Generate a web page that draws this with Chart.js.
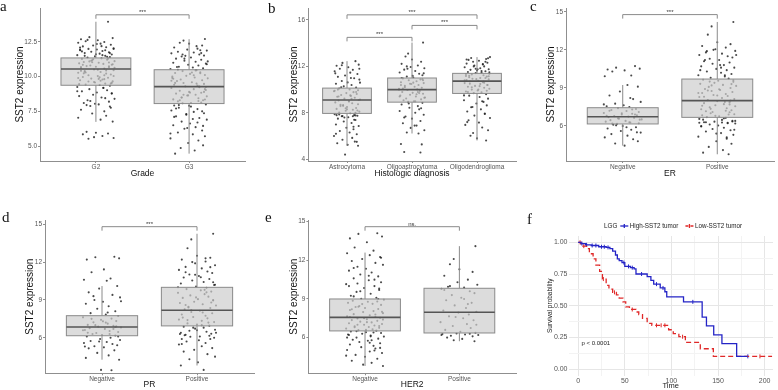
<!DOCTYPE html>
<html>
<head>
<meta charset="utf-8">
<title>SST2 expression</title>
<script src="https://cdn.jsdelivr.net/npm/chart.js@4.4.1/dist/chart.umd.min.js"></script>
<style>
  body { margin: 0; background: #fff; }
  #wrap { position: relative; width: 778px; height: 390px; overflow: hidden; background: #fff; }
  #wrap canvas { position: absolute; }
  .tag { position: absolute; font-family: 'Liberation Serif', 'Times New Roman', serif; font-size: 15px; line-height: 1; color: #111; }
</style>
</head>
<body>
<div id="wrap">
  <canvas id="panelA" width="255" height="195" style="left:0;top:0"></canvas>
  <canvas id="panelB" width="265" height="195" style="left:255px;top:0"></canvas>
  <canvas id="panelC" width="258" height="195" style="left:520px;top:0"></canvas>
  <canvas id="panelD" width="258" height="195" style="left:0;top:195px"></canvas>
  <canvas id="panelE" width="265" height="195" style="left:255px;top:195px"></canvas>
  <canvas id="panelF" width="258" height="195" style="left:520px;top:195px"></canvas>
  <div class="tag" style="left:0;top:-1px">a</div>
  <div class="tag" style="left:268px;top:1px">b</div>
  <div class="tag" style="left:530px;top:-1px">c</div>
  <div class="tag" style="left:2px;top:210px">d</div>
  <div class="tag" style="left:265px;top:210px">e</div>
  <div class="tag" style="left:527px;top:212px">f</div>
</div>
<script>
// ---------------------------------------------
// SST2 expression panels (a-e boxplots, f KM)
// ---------------------------------------------
Chart.defaults.font.family = "'Liberation Sans', Arial, sans-serif";

const AXIS_GREY = '#8f8f8f';

// jitter offsets (category units) shared by all groups
const JITTER = [0.13, -0.07, 0.18, -0.16, 0.02, -0.11, 0.09, -0.19, 0.05, 0.16, -0.03, -0.14, 0.11, 0.19, -0.08, 0.01, -0.17, 0.07, -0.05, 0.14,
  -0.12, 0.04, 0.17, -0.2, 0.1, -0.01, 0.15, -0.09, 0.06, -0.15, 0.12, -0.04, 0.2, -0.13, 0.03, -0.18, 0.08, 0.17, -0.06, -0.1,
  0.0, 0.14, -0.16, 0.09, -0.02, 0.19, -0.12, 0.05, -0.19, 0.11, 0.16, -0.08, 0.02, -0.14, 0.13, -0.05, 0.07, -0.17, 0.18, -0.01,
  0.1, -0.11, 0.04, 0.15, -0.2, 0.08, -0.07, 0.12, -0.15, 0.01, 0.17, -0.03, -0.18, 0.06, 0.2, -0.09, 0.14, -0.13, 0.03, -0.06,
  0.16, -0.16, 0.09, -0.04, 0.11, -0.19, 0.05, 0.18, -0.1, 0.0, 0.13, -0.14, 0.07, -0.02, 0.19, -0.08, 0.1, -0.17, 0.15, -0.12];

// ---- a: Grade ----
const GRADE_CATS = ['G2', 'G3'];
const GRADE_G2 = [13.96, 12.85, 12.78, 12.7, 12.62, 12.55, 12.5, 12.44, 12.38, 12.3, 12.25, 12.18, 12.12, 12.05, 12.0, 11.96, 11.9, 11.85, 11.8, 11.76, 11.7, 11.66, 11.6, 11.55, 11.5, 11.46, 11.42, 11.38,
  11.32, 11.28, 11.22, 11.18, 11.12, 11.06, 11.0, 10.96, 10.92, 10.86, 10.8, 10.76, 10.72, 10.68, 10.62, 10.58,
  10.52, 10.46, 10.4, 10.34, 10.28, 10.22, 10.16, 10.1, 10.04, 9.98, 9.92, 9.86, 9.8, 9.74, 9.66, 9.58, 9.5, 9.44, 9.4,
  9.34, 9.26, 9.18, 9.1, 9.02, 8.94, 8.86, 8.78, 8.7, 8.6, 8.5, 8.4, 8.3, 8.2, 8.1, 8.0, 7.88, 7.76, 7.62, 7.5, 7.34, 7.18, 7.04, 6.9, 6.76,
  6.02, 5.96, 5.9, 5.84, 5.72, 5.64, 5.58, 5.52,
  11.9, 12.1, 11.7, 11.5, 11.3, 11.1, 10.9, 10.7, 10.5, 10.3, 10.1, 9.9, 9.7, 9.5, 11.25, 10.85, 10.45, 10.05, 9.65, 12.35, 11.95, 11.55, 11.15, 10.75, 10.35,
  9.95, 9.55, 8.95, 8.45, 8.05, 7.85, 12.65, 12.2, 11.82, 11.44, 11.04, 10.64, 10.24, 9.84, 9.46, 9.2, 8.8, 8.25, 7.95, 11.62, 11.02, 10.42, 9.82, 9.62, 12.0];
const GRADE_G3 = [12.72, 12.6, 12.45, 12.38, 12.25, 12.1, 12.02, 11.95, 11.88, 11.8, 11.74, 11.68, 11.6, 11.52, 11.45, 11.38, 11.3, 11.22, 11.15, 11.08, 11.0, 10.94, 10.86, 10.8, 10.72, 10.66, 10.6, 10.55,
  10.46, 10.4, 10.32, 10.26, 10.2, 10.12, 10.06, 10.0, 9.94, 9.88, 9.8, 9.74, 9.68, 9.6, 9.54, 9.48, 9.42, 9.36, 9.3,
  9.24, 9.18, 9.1, 9.04, 8.98, 8.9, 8.84, 8.78, 8.7, 8.64, 8.58, 8.5, 8.44, 8.36, 8.3, 8.22, 8.14, 8.08,
  8.0, 7.92, 7.84, 7.76, 7.66, 7.56, 7.46, 7.36, 7.26, 7.14, 7.02, 6.9, 6.76, 6.62, 6.5, 6.36, 6.24, 6.12, 5.98, 5.84, 5.7, 5.55, 5.4, 5.22, 5.05, 4.86, 4.68, 4.45,
  11.9, 11.5, 11.1, 10.7, 10.3, 9.9, 9.5, 9.1, 8.7, 8.3, 7.9, 7.5, 7.1, 6.7, 6.3, 10.9, 10.5, 10.1, 9.7, 9.3, 8.9, 8.5, 8.1, 7.7, 11.7, 11.3, 10.45, 9.85,
  9.25, 8.65, 8.25, 7.95, 6.95, 6.45, 5.9, 12.2, 11.6, 10.25, 9.55, 8.85, 8.35, 7.3];
// [lower whisker, Q1, median, Q3, upper whisker]
const GRADE_STATS = [[6.74, 9.38, 10.55, 11.35, 13.96], [4.45, 8.06, 9.28, 10.5, 12.7]];
const GRADE_TICKS = [5, 7.5, 10, 12.5];
const GRADE_BRACKETS = [[1, 2, 14.46, '***']];

// ---- b: Histologic diagnosis ----
const HIST_CATS = ['Astrocytoma', 'Oligoastrocytoma', 'Oligodendroglioma'];
const HIST_ASTRO = [12.45, 12.3, 12.15, 12.05, 11.92, 11.8, 11.7, 11.58, 11.46, 11.35, 11.22, 11.1, 10.98, 10.86, 10.74, 10.62, 10.5, 10.4, 10.28, 10.18,
  10.1, 10.02, 9.94, 9.86, 9.78, 9.7, 9.62, 9.54, 9.46, 9.38, 9.3, 9.22, 9.15,
  9.06, 8.98, 8.9, 8.82, 8.74, 8.66, 8.58, 8.5, 8.42, 8.34, 8.26, 8.18, 8.1, 8.02, 7.96,
  7.88, 7.8, 7.75, 7.7, 7.62, 7.5, 7.38, 7.25, 7.12, 7.0, 6.86, 6.72, 6.58, 6.44, 6.3, 6.16, 6.0, 5.84, 5.68, 5.52, 5.38, 5.24, 5.16, 4.4,
  11.4, 11.0, 10.6, 10.2, 9.8, 9.4, 9.0, 8.6, 8.2, 7.8, 7.7, 7.6, 7.4, 9.9, 9.5, 9.1, 8.7, 8.3, 8.0, 10.0, 9.2, 8.4, 11.8, 12.1, 6.8, 6.2, 5.5, 7.85, 7.78, 7.72];
const HIST_OLIGOASTRO = [14.05, 13.1, 12.85, 12.6, 12.4, 12.22, 12.08, 11.95, 11.84, 11.72, 11.6, 11.48, 11.36, 11.24, 11.12, 11.04,
  10.96, 10.88, 10.8, 10.72, 10.64, 10.56, 10.48, 10.4, 10.32, 10.24, 10.16, 10.08, 10.02,
  9.96, 9.88, 9.8, 9.72, 9.64, 9.56, 9.48, 9.4, 9.32, 9.24, 9.16, 9.08, 9.0, 8.94,
  8.86, 8.72, 8.58, 8.44, 8.3, 8.16, 8.0, 7.84, 7.68, 7.5, 7.3, 7.1, 6.9, 6.7, 6.5, 6.3, 6.22, 5.32, 5.28, 4.62, 4.58,
  11.8, 11.4, 11.0, 10.6, 10.2, 9.8, 9.4, 9.0, 10.9, 10.5, 10.1, 9.7, 9.3, 12.0, 11.2, 10.4, 9.6, 8.8, 8.4, 7.6, 6.9, 10.8, 10.0];
const HIST_OLIGODENDRO = [12.8, 12.72, 12.64, 12.56, 12.48, 12.4, 12.32, 12.24, 12.16, 12.08, 12.0, 11.92, 11.84, 11.76, 11.7, 11.64, 11.58, 11.52, 11.46, 11.42,
  11.36, 11.3, 11.24, 11.18, 11.12, 11.06, 11.0, 10.94, 10.88, 10.82, 10.76,
  10.7, 10.64, 10.56, 10.48, 10.4, 10.32, 10.24, 10.16, 10.08, 10.0, 9.92, 9.84, 9.76, 9.7,
  9.6, 9.48, 9.36, 9.22, 9.08, 8.94, 8.8, 8.64, 8.48, 8.3, 8.12, 7.94, 7.76, 7.56, 7.36, 7.16, 6.96, 6.74, 6.5, 6.26, 6.02, 5.8, 5.62,
  12.6, 12.2, 11.8, 11.5, 11.2, 11.0, 10.8, 10.6, 10.4, 10.2, 10.0, 9.8, 12.4, 12.0, 11.6, 11.35, 11.15, 10.9, 10.7, 10.5, 10.3, 9.9, 9.5, 9.0, 8.5, 7.9, 7.2, 11.75, 12.7];
const HIST_STATS = [[5.16, 7.95, 9.1, 10.13, 12.45], [6.22, 8.92, 10.0, 11.0, 14.05], [5.62, 9.67, 10.73, 11.4, 12.8]];
const HIST_TICKS = [4, 8, 12, 16];
const HIST_BRACKETS = [[1, 2, 14.5, '***'], [2, 3, 15.53, '***'], [1, 3, 16.44, '***']];

// ---- c: ER ----
const STATUS_CATS = ['Negative', 'Positive'];
const ER_NEG = [10.72, 10.6, 10.52, 10.45, 10.38, 10.3, 9.98, 9.92,
  9.23, 9.1, 8.72, 8.4, 8.12, 7.9, 7.76, 7.64, 7.56, 7.5,
  7.4, 7.34, 7.26, 7.18, 7.1, 7.02, 6.96, 6.9, 6.84, 6.78, 6.74,
  6.7, 6.64, 6.58, 6.52, 6.46, 6.4, 6.34, 6.28, 6.22, 6.17,
  6.1, 6.0, 5.9, 5.8, 5.7, 5.6, 5.48, 5.36, 5.24, 5.1, 4.96, 4.8, 4.62, 4.45,
  7.2, 6.9, 6.6, 6.3, 6.8, 6.5, 7.0, 7.3, 6.2, 5.9, 5.5, 7.7, 8.2, 6.05];
const ER_POS = [14.2, 13.85, 13.2, 12.6, 12.45, 12.3, 12.18, 12.05, 11.92, 11.8, 11.7, 11.6, 11.5, 11.4, 11.3, 11.2, 11.1, 11.0, 10.9, 10.8, 10.7, 10.6, 10.5, 10.4, 10.3, 10.2, 10.1, 10.0, 9.9, 9.8, 9.74,
  9.64, 9.56, 9.48, 9.4, 9.32, 9.24, 9.16, 9.08, 9.0, 8.92, 8.84, 8.76, 8.68, 8.6, 8.52, 8.44, 8.36, 8.28, 8.2, 8.12, 8.04,
  7.96, 7.88, 7.8, 7.72, 7.64, 7.56, 7.48, 7.4, 7.32, 7.24, 7.16, 7.08, 7.0, 6.92, 6.84, 6.76, 6.7,
  6.64, 6.56, 6.48, 6.4, 6.34, 6.3, 6.26, 6.2, 6.12, 6.04, 5.96, 5.86, 5.76, 5.66, 5.56, 5.44, 5.3, 5.16, 5.0, 4.8, 4.6, 4.35, 4.1, 3.9, 3.77,
  12.0, 11.6, 11.2, 10.8, 10.4, 10.0, 9.6, 9.2, 8.8, 8.4, 8.0, 7.6, 7.2, 6.8, 6.4, 6.3, 6.28, 6.25, 6.22, 6.35, 9.5, 8.9, 8.3, 7.7, 7.1, 6.6, 6.0, 5.7, 5.4, 5.1,
  11.9, 10.6, 9.3, 8.6, 7.9, 7.35, 6.9, 6.5];
const ER_STATS = [[4.45, 6.16, 6.73, 7.44, 9.23], [3.77, 6.68, 8.0, 9.7, 14.2]];
const EXPR_TICKS = [6, 9, 12, 15];
const ER_BRACKETS = [[1, 2, 14.78, '***']];

// ---- d: PR ----
const PR_NEG = [12.42, 12.38, 12.3, 12.2, 11.42, 11.2, 10.7, 10.6, 10.52,
  10.1, 9.9, 9.6, 9.4, 9.2, 9.0, 8.85, 8.7, 8.5, 8.3, 8.1, 7.95, 7.85,
  7.72, 7.62, 7.52, 7.42, 7.32, 7.22, 7.12, 7.02, 6.94, 6.88,
  6.82, 6.76, 6.7, 6.62, 6.54, 6.46, 6.38, 6.3, 6.22, 6.18,
  6.1, 6.0, 5.9, 5.82, 5.74, 5.66, 5.58, 5.5, 5.4, 5.32, 5.24, 5.16, 5.0, 4.8, 4.6, 4.4, 4.26, 3.45, 3.42,
  7.5, 7.2, 6.9, 6.6, 6.3, 7.0, 6.7, 6.4, 7.3, 6.1, 5.7, 5.3, 8.0, 8.9, 9.3, 6.85];
const PR_POS = [14.25, 13.8, 13.1, 12.5, 12.35, 12.2, 12.05, 11.9, 11.75, 11.62, 11.5, 11.38, 11.26, 11.14, 11.02, 10.9, 10.78, 10.66, 10.54, 10.42, 10.3, 10.18, 10.06,
  9.96, 9.86, 9.76, 9.66, 9.56, 9.46, 9.36, 9.26, 9.16, 9.06, 8.96, 8.86, 8.76, 8.66, 8.56, 8.46, 8.36, 8.26,
  8.14, 8.04, 7.94, 7.84, 7.74, 7.64, 7.54, 7.44, 7.34, 7.24, 7.14, 7.04, 6.96,
  6.88, 6.8, 6.72, 6.64, 6.56, 6.48, 6.4, 6.32, 6.24, 6.16, 6.08, 6.0, 5.9, 5.8, 5.7, 5.58, 5.46, 5.32, 5.18, 5.04, 4.9, 4.7, 4.5, 4.3, 4.05, 3.8, 3.45,
  12.0, 11.6, 11.2, 10.8, 10.4, 10.0, 9.6, 9.2, 8.8, 8.4, 8.0, 7.6, 7.2, 6.8, 6.4, 6.2, 6.1, 6.3, 9.8, 9.0, 8.2, 7.4, 6.6, 5.9, 5.5, 12.3, 11.0, 10.2, 8.6, 7.0];
const PR_STATS = [[4.26, 6.16, 6.85, 7.75, 10.1], [3.8, 6.94, 8.18, 10.0, 14.25]];
const PR_BRACKETS = [[1, 2, 14.81, '***']];

// ---- e: HER2 ----
const HER2_NEG = [14.1, 14.05, 13.85, 13.7, 13.4, 13.0, 12.75,
  12.55, 12.4, 12.25, 12.1, 11.95, 11.8, 11.65, 11.5, 11.35, 11.2, 11.05, 10.9, 10.75, 10.6, 10.45, 10.3, 10.15, 10.0, 9.85, 9.7, 9.55, 9.4, 9.25, 9.1, 9.02,
  8.94, 8.86, 8.78, 8.7, 8.62, 8.54, 8.46, 8.38, 8.3, 8.22, 8.14, 8.06, 7.98, 7.9, 7.82, 7.74, 7.66, 7.6,
  7.54, 7.48, 7.42, 7.36, 7.3, 7.24, 7.18, 7.12, 7.06, 7.0, 6.94, 6.88, 6.82, 6.76, 6.7, 6.64, 6.58, 6.54,
  6.48, 6.42, 6.36, 6.3, 6.24, 6.16, 6.08, 6.0, 5.92, 5.84, 5.76, 5.66, 5.56, 5.46, 5.36, 5.26, 5.16, 5.04, 4.92, 4.8, 4.66, 4.52, 4.36, 4.2, 4.04, 3.9, 3.8,
  10.2, 10.5, 10.0, 9.8, 9.2, 8.8, 8.4, 8.0, 7.6, 7.2, 6.8, 6.4, 6.0, 5.6, 5.2, 8.6, 8.2, 7.8, 7.4, 7.0, 6.6, 6.2, 5.8, 9.6, 9.0, 11.4, 10.8, 12.2, 4.6, 5.0,
  7.5, 6.9, 6.5, 6.1];
const HER2_POS = [13.1, 12.1, 11.7, 11.3, 11.1, 10.8, 10.5, 10.3, 10.1, 9.95, 9.88,
  9.78, 9.6, 9.45, 9.3, 9.1, 8.9, 8.7, 8.5, 8.3, 8.1, 8.0,
  7.94, 7.8, 7.65, 7.5, 7.35, 7.2, 7.05, 6.9, 6.75, 6.6, 6.45, 6.38,
  6.32, 6.28, 6.24, 6.2, 6.15, 6.1, 6.0, 5.9, 5.8, 5.72,
  9.7, 8.6, 7.6, 6.3, 6.2, 9.0, 7.0, 10.0];
const HER2_STATS = [[3.8, 6.52, 7.57, 9.0, 12.6], [5.72, 6.36, 7.97, 9.83, 13.1]];
const HER2_BRACKETS = [[1, 2, 14.61, 'ns.']];

// ---- f: survival (LGG) ----
const HIGH_TIME = [0, 3, 8, 14, 22, 30, 34, 37, 40, 42, 44, 47, 50, 56, 60, 62, 74, 78, 81, 88, 93, 95, 113, 133, 137.6, 145.4, 154.2, 170, 181.7];
const HIGH_SURV = [1, 0.99, 0.98, 0.975, 0.965, 0.96, 0.95, 0.93, 0.9, 0.87, 0.855, 0.84, 0.81, 0.8, 0.79, 0.75, 0.73, 0.7, 0.67, 0.64, 0.61, 0.57, 0.53, 0.41, 0.34, 0.27, 0.2, 0.1, 0.1];
const LOW_TIME = [0, 3, 5, 9, 12, 16, 19, 23, 26, 30, 33, 37, 41, 44, 48, 51, 55, 62, 65, 69, 74, 79, 97, 102, 108, 115, 131, 145, 208];
const LOW_SURV = [1, 0.98, 0.97, 0.95, 0.91, 0.87, 0.82, 0.77, 0.71, 0.66, 0.63, 0.605, 0.585, 0.56, 0.53, 0.49, 0.47, 0.45, 0.43, 0.4, 0.36, 0.345, 0.31, 0.28, 0.255, 0.21, 0.16, 0.1, 0.1];
const HIGH_CENSOR = [4, 9, 15, 19, 25, 28, 32, 49, 54, 58, 68, 84, 91, 123, 182];
const LOW_CENSOR = [2, 6, 27, 39, 58, 84, 89, 93, 112, 195];
const TIME_TICKS = [0, 50, 100, 150, 200];
const TIME_MINOR = [25, 75, 125, 175];
const SURV_TICKS = [0, 0.25, 0.5, 0.75, 1];
const SURV_MINOR = [0.125, 0.375, 0.625, 0.875];

const HIGH_BLUE = '#2424c6';
const LOW_RED = '#e02828';

function makeBoxPlugin(p) {
  return {
    id: 'boxplot',
    afterDatasetsDraw(chart) {
      const { ctx, scales: { x, y } } = chart;
      ctx.save();
      p.stats.forEach((s, i) => {
        const cx = x.getPixelForValue(i + 1);
        const half = x.getPixelForValue(i + 1 + 0.375) - cx;
        const [lo, q1, med, q3, hi] = s.map(v => y.getPixelForValue(v));
        ctx.strokeStyle = '#8a8a8a';
        ctx.lineWidth = 1;
        ctx.beginPath();
        ctx.moveTo(cx, lo); ctx.lineTo(cx, q1);
        ctx.moveTo(cx, q3); ctx.lineTo(cx, hi);
        ctx.stroke();
        ctx.fillStyle = 'rgba(205,205,205,0.7)';
        ctx.fillRect(cx - half, q3, half * 2, q1 - q3);
        ctx.strokeRect(cx - half, q3, half * 2, q1 - q3);
        ctx.strokeStyle = '#555';
        ctx.lineWidth = 1.6;
        ctx.beginPath();
        ctx.moveTo(cx - half, med); ctx.lineTo(cx + half, med);
        ctx.stroke();
      });
      // significance brackets
      ctx.strokeStyle = '#8a8a8a';
      ctx.lineWidth = 1;
      ctx.fillStyle = '#333';
      ctx.font = "6px 'Liberation Sans', Arial, sans-serif";
      ctx.textAlign = 'center';
      ctx.textBaseline = 'alphabetic';
      p.brackets.forEach(b => {
        const x1 = x.getPixelForValue(b[0]);
        const x2 = x.getPixelForValue(b[1]);
        const by = y.getPixelForValue(b[2]);
        ctx.beginPath();
        ctx.moveTo(x1, by + 4); ctx.lineTo(x1, by); ctx.lineTo(x2, by); ctx.lineTo(x2, by + 4);
        ctx.stroke();
        ctx.fillText(b[3], (x1 + x2) / 2, by - 1);
      });
      ctx.restore();
    }
  };
}

function boxPanel(id, p) {
  const canvas = document.getElementById(id);
  const W = canvas.width, H = canvas.height;
  const n = p.cats.length;
  return new Chart(canvas, {
    type: 'scatter',
    data: {
      datasets: p.groups.map((vals, g) => ({
        data: vals.map((v, i) => ({ x: g + 1 + JITTER[(i + g * 37) % JITTER.length], y: v })),
        pointRadius: 1.05,
        pointBackgroundColor: 'rgba(28,28,28,0.8)',
        pointBorderWidth: 0,
        borderColor: 'transparent'
      }))
    },
    options: {
      responsive: false,
      animation: false,
      devicePixelRatio: 1,
      events: [],
      layout: { padding: { left: 0, top: p.area.top, right: W - p.area.right, bottom: 0 } },
      plugins: { legend: { display: false }, tooltip: { enabled: false } },
      scales: {
        x: {
          type: 'linear', min: 0.4, max: n + 0.6,
          afterBuildTicks: s => { s.ticks = p.cats.map((c, i) => ({ value: i + 1 })); },
          afterFit: s => { s.height = H - p.area.bottom; },
          ticks: { callback: v => p.cats[v - 1], color: '#555', font: { size: 6.5 }, padding: 0, maxRotation: 0, autoSkip: false },
          grid: { drawOnChartArea: false, tickLength: 2, color: AXIS_GREY },
          border: { color: AXIS_GREY },
          title: { display: true, text: p.xTitle, color: '#111', font: { size: 8.5 }, padding: { top: 0, bottom: p.xTitlePad } }
        },
        y: {
          min: p.yMin, max: p.yMax,
          afterBuildTicks: s => { s.ticks = p.yTicks.map(v => ({ value: v })); },
          afterFit: s => { s.width = p.area.left; },
          ticks: { callback: v => p.tickFmt(v), color: '#555', font: { size: 6.5 }, padding: 1 },
          grid: { drawOnChartArea: false, tickLength: 2, color: AXIS_GREY },
          border: { color: AXIS_GREY },
          title: { display: true, text: 'SST2 expression', color: '#111', font: { size: 10 }, padding: { top: p.yTitlePad, bottom: 0 } }
        }
      }
    },
    plugins: [makeBoxPlugin(p)]
  });
}

boxPanel('panelA', {
  cats: GRADE_CATS, groups: [GRADE_G2, GRADE_G3], stats: GRADE_STATS, brackets: GRADE_BRACKETS,
  yMin: 3.92, yMax: 14.95, yTicks: GRADE_TICKS, tickFmt: v => v.toFixed(1),
  xTitle: 'Grade', area: { left: 40, right: 245, top: 8, bottom: 161 }, yTitlePad: 14, xTitlePad: 15.9
});
boxPanel('panelB', {
  cats: HIST_CATS, groups: [HIST_ASTRO, HIST_OLIGOASTRO, HIST_OLIGODENDRO], stats: HIST_STATS, brackets: HIST_BRACKETS,
  yMin: 3.85, yMax: 17.03, yTicks: HIST_TICKS, tickFmt: v => String(v),
  xTitle: 'Histologic diagnosis', area: { left: 53, right: 264, top: 8, bottom: 161 }, yTitlePad: 33.5, xTitlePad: 15.9
});
boxPanel('panelC', {
  cats: STATUS_CATS, groups: [ER_NEG, ER_POS], stats: ER_STATS, brackets: ER_BRACKETS,
  yMin: 3.24, yMax: 15.3, yTicks: EXPR_TICKS, tickFmt: v => String(v),
  xTitle: 'ER', area: { left: 46, right: 257, top: 8, bottom: 161 }, yTitlePad: 25.7, xTitlePad: 15.9
});
boxPanel('panelD', {
  cats: STATUS_CATS, groups: [PR_NEG, PR_POS], stats: PR_STATS, brackets: PR_BRACKETS,
  yMin: 3.18, yMax: 15.34, yTicks: EXPR_TICKS, tickFmt: v => String(v),
  xTitle: 'PR', area: { left: 45, right: 256, top: 25, bottom: 178.3 }, yTitlePad: 24.3, xTitlePad: 0
});
boxPanel('panelE', {
  cats: STATUS_CATS, groups: [HER2_NEG, HER2_POS], stats: HER2_STATS, brackets: HER2_BRACKETS,
  yMin: 3.23, yMax: 15.13, yTicks: EXPR_TICKS, tickFmt: v => String(v),
  xTitle: 'HER2', area: { left: 53.4, right: 264.6, top: 25, bottom: 178.3 }, yTitlePad: 33.3, xTitlePad: 0
});

// ---- f: Kaplan-Meier ----
function survAt(times, surv, t) {
  let s = surv[0];
  times.forEach((tt, i) => { if (tt <= t) s = surv[i]; });
  return s;
}

const survLegend = {
  id: 'survLegend',
  afterDraw(chart) {
    const { ctx, scales: { x, y } } = chart;
    ctx.save();
    ctx.font = "6.3px 'Liberation Sans', Arial, sans-serif";
    ctx.textBaseline = 'middle';
    ctx.fillStyle = '#222';
    const ly = 31;
    let lx = 84;
    ctx.fillText('LGG', lx, ly);
    lx += ctx.measureText('LGG').width + 3;
    [[HIGH_BLUE, [], chart.data.datasets[0].label], [LOW_RED, [3, 2], chart.data.datasets[1].label]].forEach(item => {
      ctx.strokeStyle = item[0];
      ctx.lineWidth = 1.3;
      ctx.setLineDash(item[1]);
      ctx.beginPath();
      ctx.moveTo(lx, ly); ctx.lineTo(lx + 8, ly);
      ctx.stroke();
      ctx.setLineDash([]);
      ctx.beginPath();
      ctx.moveTo(lx + 4, ly - 2); ctx.lineTo(lx + 4, ly + 2);
      ctx.stroke();
      lx += 9.5;
      ctx.fillStyle = '#222';
      ctx.fillText(item[2], lx, ly);
      lx += ctx.measureText(item[2]).width + 7;
    });
    ctx.font = "6px 'Liberation Sans', Arial, sans-serif";
    ctx.fillStyle = '#222';
    ctx.textBaseline = 'middle';
    ctx.fillText('p < 0.0001', x.getPixelForValue(3.6), y.getPixelForValue(0.2));
    ctx.restore();
  }
};

const fCanvas = document.getElementById('panelF');
new Chart(fCanvas, {
  type: 'line',
  data: {
    datasets: [{
      label: 'High-SST2 tumor',
      data: HIGH_TIME.map((t, i) => ({ x: t, y: HIGH_SURV[i] })),
      stepped: true, borderColor: HIGH_BLUE, borderWidth: 1.3, pointRadius: 0, fill: false
    }, {
      label: 'Low-SST2 tumor',
      data: LOW_TIME.map((t, i) => ({ x: t, y: LOW_SURV[i] })),
      stepped: true, borderColor: LOW_RED, borderWidth: 1.3, borderDash: [5, 3], pointRadius: 0, fill: false
    }, {
      type: 'scatter', label: 'High censored',
      data: HIGH_CENSOR.map(t => ({ x: t, y: survAt(HIGH_TIME, HIGH_SURV, t) })),
      pointStyle: 'line', rotation: 90, pointRadius: 2, pointBorderColor: HIGH_BLUE, pointBorderWidth: 1, showLine: false
    }, {
      type: 'scatter', label: 'Low censored',
      data: LOW_CENSOR.map(t => ({ x: t, y: survAt(LOW_TIME, LOW_SURV, t) })),
      pointStyle: 'line', rotation: 90, pointRadius: 2, pointBorderColor: LOW_RED, pointBorderWidth: 1, showLine: false
    }]
  },
  options: {
    responsive: false,
    animation: false,
    devicePixelRatio: 1,
    events: [],
    layout: { padding: { left: 0, top: 41, right: 2, bottom: 0 } },
    plugins: { legend: { display: false }, tooltip: { enabled: false } },
    scales: {
      x: {
        type: 'linear', min: -10.4, max: 209,
        afterBuildTicks: s => { s.ticks = TIME_TICKS.concat(TIME_MINOR).map(v => ({ value: v })); },
        afterFit: s => { s.height = 195 - 180.6; },
        ticks: { callback: v => TIME_TICKS.includes(v) ? String(v) : '', color: '#555', font: { size: 7 }, padding: 1, maxRotation: 0, autoSkip: false },
        grid: { drawTicks: false, color: c => (c.tick && TIME_TICKS.includes(c.tick.value)) ? '#e6e6e6' : '#f3f3f3' },
        border: { display: false },
        title: { display: true, text: 'Time', color: '#222', font: { size: 7.5 }, padding: { top: 0, bottom: 0 } }
      },
      y: {
        min: -0.052, max: 1.05,
        afterBuildTicks: s => { s.ticks = SURV_TICKS.concat(SURV_MINOR).map(v => ({ value: v })); },
        afterFit: s => { s.width = 48.5; },
        ticks: { callback: v => SURV_TICKS.includes(v) ? v.toFixed(2) : '', color: '#555', font: { size: 7 }, padding: 1, autoSkip: false },
        grid: { drawTicks: false, color: c => (c.tick && SURV_TICKS.includes(c.tick.value)) ? '#e6e6e6' : '#f3f3f3' },
        border: { display: false },
        title: { display: true, text: 'Survival probability', color: '#222', font: { size: 6.5 }, padding: { top: 26.8, bottom: 0 } }
      }
    }
  },
  plugins: [survLegend]
});
</script>
</body>
</html>
